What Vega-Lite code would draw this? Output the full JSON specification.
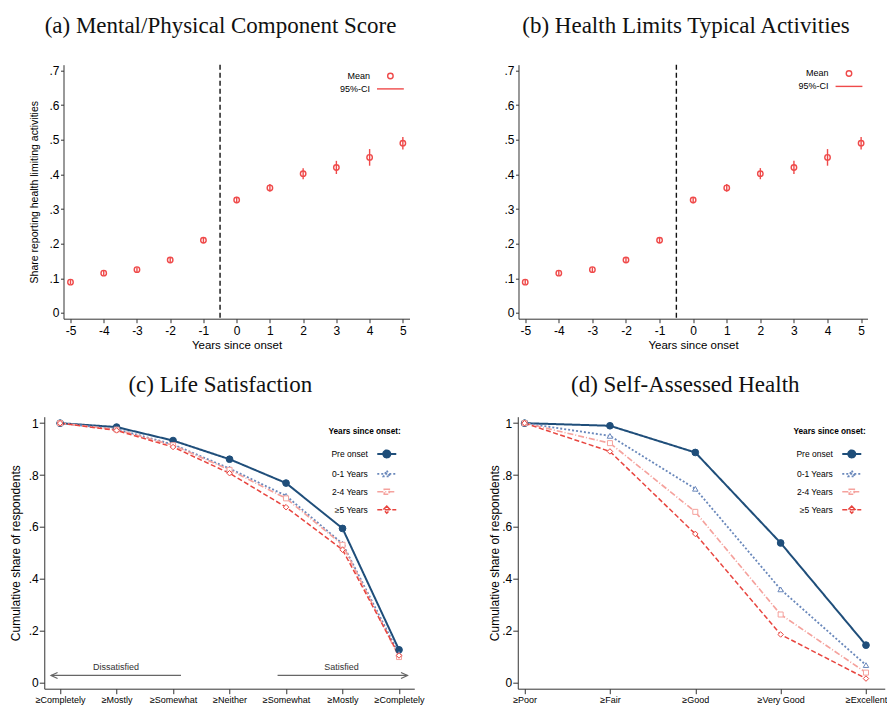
{
  "$schema": "https://vega.github.io/schema/vega-lite/v6.json",
  "padding": {"left": 9, "top": 14.7, "right": 0, "bottom": 0},
  "datasets": {
    "scores": [
      {"year": -5, "mean": 0.089, "lo": 0.083, "hi": 0.095},
      {"year": -4, "mean": 0.115, "lo": 0.108, "hi": 0.122},
      {"year": -3, "mean": 0.125, "lo": 0.118, "hi": 0.132},
      {"year": -2, "mean": 0.153, "lo": 0.146, "hi": 0.160},
      {"year": -1, "mean": 0.210, "lo": 0.202, "hi": 0.218},
      {"year": 0, "mean": 0.326, "lo": 0.317, "hi": 0.335},
      {"year": 1, "mean": 0.361, "lo": 0.350, "hi": 0.372},
      {"year": 2, "mean": 0.402, "lo": 0.386, "hi": 0.418},
      {"year": 3, "mean": 0.420, "lo": 0.401, "hi": 0.439},
      {"year": 4, "mean": 0.449, "lo": 0.425, "hi": 0.473},
      {"year": 5, "mean": 0.490, "lo": 0.472, "hi": 0.508}
    ],
    "ls": [
      {"level": 1, "group": "Pre onset", "share": 1.0},
      {"level": 2, "group": "Pre onset", "share": 0.985},
      {"level": 3, "group": "Pre onset", "share": 0.933},
      {"level": 4, "group": "Pre onset", "share": 0.861},
      {"level": 5, "group": "Pre onset", "share": 0.769},
      {"level": 6, "group": "Pre onset", "share": 0.594},
      {"level": 7, "group": "Pre onset", "share": 0.126},
      {"level": 1, "group": "0-1 Years", "share": 1.0},
      {"level": 2, "group": "0-1 Years", "share": 0.977},
      {"level": 3, "group": "0-1 Years", "share": 0.918},
      {"level": 4, "group": "0-1 Years", "share": 0.825},
      {"level": 5, "group": "0-1 Years", "share": 0.720},
      {"level": 6, "group": "0-1 Years", "share": 0.535},
      {"level": 7, "group": "0-1 Years", "share": 0.110},
      {"level": 1, "group": "2-4 Years", "share": 1.0},
      {"level": 2, "group": "2-4 Years", "share": 0.975},
      {"level": 3, "group": "2-4 Years", "share": 0.915},
      {"level": 4, "group": "2-4 Years", "share": 0.820},
      {"level": 5, "group": "2-4 Years", "share": 0.710},
      {"level": 6, "group": "2-4 Years", "share": 0.531},
      {"level": 7, "group": "2-4 Years", "share": 0.098},
      {"level": 1, "group": "≥5 Years", "share": 1.0},
      {"level": 2, "group": "≥5 Years", "share": 0.972},
      {"level": 3, "group": "≥5 Years", "share": 0.908},
      {"level": 4, "group": "≥5 Years", "share": 0.807},
      {"level": 5, "group": "≥5 Years", "share": 0.676},
      {"level": 6, "group": "≥5 Years", "share": 0.512},
      {"level": 7, "group": "≥5 Years", "share": 0.104}
    ],
    "sah": [
      {"level": 1, "group": "Pre onset", "share": 1.0},
      {"level": 2, "group": "Pre onset", "share": 0.990},
      {"level": 3, "group": "Pre onset", "share": 0.887},
      {"level": 4, "group": "Pre onset", "share": 0.538},
      {"level": 5, "group": "Pre onset", "share": 0.144},
      {"level": 1, "group": "0-1 Years", "share": 1.0},
      {"level": 2, "group": "0-1 Years", "share": 0.951},
      {"level": 3, "group": "0-1 Years", "share": 0.747},
      {"level": 4, "group": "0-1 Years", "share": 0.359},
      {"level": 5, "group": "0-1 Years", "share": 0.067},
      {"level": 1, "group": "2-4 Years", "share": 1.0},
      {"level": 2, "group": "2-4 Years", "share": 0.923},
      {"level": 3, "group": "2-4 Years", "share": 0.658},
      {"level": 4, "group": "2-4 Years", "share": 0.262},
      {"level": 5, "group": "2-4 Years", "share": 0.038},
      {"level": 1, "group": "≥5 Years", "share": 1.0},
      {"level": 2, "group": "≥5 Years", "share": 0.891},
      {"level": 3, "group": "≥5 Years", "share": 0.573},
      {"level": 4, "group": "≥5 Years", "share": 0.185},
      {"level": 5, "group": "≥5 Years", "share": 0.015}
    ]
  },
  "spacing": 22,
  "center": true,
  "resolve": {"scale": {"x": "independent", "y": "independent", "color": "independent", "strokeDash": "independent", "shape": "independent", "fill": "independent", "strokeWidth": "independent"}, "legend": {"color": "independent", "shape": "independent", "fill": "independent", "strokeDash": "independent"}},
  "vconcat": [
    {
      "spacing": 94,
      "resolve": {"scale": {"x": "independent", "y": "independent", "color": "independent", "shape": "independent"}, "legend": {"color": "independent", "shape": "independent"}},
      "hconcat": [
        {
          "width": 346, "height": 254,
          "title": {"text": "(a) Mental/Physical Component Score", "offset": 26.3, "dx": -16},
          "data": {"name": "scores"},
          "encoding": {
            "x": {"field": "year", "type": "quantitative",
              "scale": {"domain": [-5.21, 5.2], "nice": false, "zero": false},
              "axis": {"title": "Years since onset", "values": [-5, -4, -3, -2, -1, 0, 1, 2, 3, 4, 5], "labelExpr": "'' + datum.value", "tickSize": 4, "labelPadding": 3, "titlePadding": 3, "labelFontSize": 12, "titleFontSize": 11.5, "labelFlush": false, "labelOverlap": false}}
          },
          "layer": [
            {"transform": [{"filter": "datum.year === 0"}],
             "mark": {"type": "rule", "strokeDash": [5, 3], "color": "#111", "strokeWidth": 1.4},
             "encoding": {"x": {"datum": -0.5, "type": "quantitative"}}},
            {"mark": {"type": "rule", "strokeWidth": 1.4, "color": "#ef4a4a"},
             "encoding": {
               "y": {"field": "lo", "type": "quantitative",
                 "scale": {"domain": [-0.0165, 0.7165], "nice": false, "zero": false},
                 "axis": {"title": ["", "Share reporting health limiting activities"], "titleLineHeight": 10.5, "values": [0, 0.1, 0.2, 0.3, 0.4, 0.5, 0.6, 0.7], "labelExpr": "datum.value == 0 ? '0' : replace(format(datum.value, '.1f'), '0.', '.')", "tickSize": 3, "labelPadding": 1.5, "titlePadding": 9.5, "labelFontSize": 12, "titleFontSize": 10.5, "labelOverlap": false}},
               "y2": {"field": "hi"}}},
            {"mark": {"type": "point", "filled": false, "size": 30, "strokeWidth": 1.4, "opacity": 1, "color": "#ef4a4a"},
             "encoding": {
               "y": {"field": "mean", "type": "quantitative",
                 "scale": {"domain": [-0.0165, 0.7165], "nice": false, "zero": false},
                 "axis": {"title": ["", "Share reporting health limiting activities"], "titleLineHeight": 10.5, "values": [0, 0.1, 0.2, 0.3, 0.4, 0.5, 0.6, 0.7], "labelExpr": "datum.value == 0 ? '0' : replace(format(datum.value, '.1f'), '0.', '.')", "tickSize": 3, "labelPadding": 1.5, "titlePadding": 9.5, "labelFontSize": 12, "titleFontSize": 10.5, "labelOverlap": false}}
             }},
            {"transform": [{"filter": "false"}],
             "mark": {"type": "point", "filled": false, "strokeWidth": 1.4, "opacity": 1},
             "encoding": {
               "shape": {"datum": "Mean", "type": "nominal", "scale": {"domain": ["Mean", "95%-CI"], "range": ["circle", "M -4.9 0 L 4.9 0"]}},
               "color": {"datum": "Mean", "type": "nominal",
                 "scale": {"domain": ["Mean", "95%-CI"], "range": ["#ef4a4a", "#ef4a4a"]},
                 "legend": {"orient": "none", "legendX": 322.4, "legendY": 6.8, "title": null, "padding": 0, "symbolSize": 30, "labelFontSize": 9, "labelAlign": "right", "labelOffset": -25, "rowPadding": 1.9, "symbolStrokeWidth": 1.4, "symbolFillColor": "transparent"}}
             }}
          ]
        },
        {
          "width": 349, "height": 254,
          "title": {"text": "(b) Health Limits Typical Activities", "offset": 26.3, "dx": -7},
          "data": {"name": "scores"},
          "encoding": {
            "x": {"field": "year", "type": "quantitative",
              "scale": {"domain": [-5.2, 5.19], "nice": false, "zero": false},
              "axis": {"title": "Years since onset", "values": [-5, -4, -3, -2, -1, 0, 1, 2, 3, 4, 5], "labelExpr": "'' + datum.value", "tickSize": 4, "labelPadding": 3, "titlePadding": 3, "labelFontSize": 12, "titleFontSize": 11.5, "labelFlush": false, "labelOverlap": false}}
          },
          "layer": [
            {"transform": [{"filter": "datum.year === 0"}],
             "mark": {"type": "rule", "strokeDash": [5, 3], "color": "#111", "strokeWidth": 1.4},
             "encoding": {"x": {"datum": -0.5, "type": "quantitative"}}},
            {"mark": {"type": "rule", "strokeWidth": 1.4, "color": "#ef4a4a"},
             "encoding": {
               "y": {"field": "lo", "type": "quantitative",
                 "scale": {"domain": [-0.0165, 0.7165], "nice": false, "zero": false},
                 "axis": {"title": null, "values": [0, 0.1, 0.2, 0.3, 0.4, 0.5, 0.6, 0.7], "labelExpr": "datum.value == 0 ? '0' : replace(format(datum.value, '.1f'), '0.', '.')", "tickSize": 3, "labelPadding": 1.5, "labelFontSize": 12, "labelOverlap": false}},
               "y2": {"field": "hi"}}},
            {"mark": {"type": "point", "filled": false, "size": 30, "strokeWidth": 1.4, "opacity": 1, "color": "#ef4a4a"},
             "encoding": {
               "y": {"field": "mean", "type": "quantitative",
                 "scale": {"domain": [-0.0165, 0.7165], "nice": false, "zero": false},
                 "axis": {"title": null, "values": [0, 0.1, 0.2, 0.3, 0.4, 0.5, 0.6, 0.7], "labelExpr": "datum.value == 0 ? '0' : replace(format(datum.value, '.1f'), '0.', '.')", "tickSize": 3, "labelPadding": 1.5, "labelFontSize": 12, "labelOverlap": false}}
             }},
            {"transform": [{"filter": "false"}],
             "mark": {"type": "point", "filled": false, "strokeWidth": 1.4, "opacity": 1},
             "encoding": {
               "shape": {"datum": "Mean", "type": "nominal", "scale": {"domain": ["Mean", "95%-CI"], "range": ["circle", "M -4.9 0 L 4.9 0"]}},
               "color": {"datum": "Mean", "type": "nominal",
                 "scale": {"domain": ["Mean", "95%-CI"], "range": ["#ef4a4a", "#ef4a4a"]},
                 "legend": {"orient": "none", "legendX": 326, "legendY": 4.3, "title": null, "padding": 0, "symbolSize": 30, "labelFontSize": 9, "labelAlign": "right", "labelOffset": -25, "rowPadding": 1.9, "symbolStrokeWidth": 1.4, "symbolFillColor": "transparent"}}
             }}
          ]
        }
      ]
    },
    {
      "spacing": 63.5,
      "resolve": {"scale": {"x": "independent", "y": "independent", "color": "independent", "strokeDash": "independent", "shape": "independent", "fill": "independent", "strokeWidth": "independent"}, "legend": {"color": "independent", "shape": "independent", "fill": "independent", "strokeDash": "independent"}},
      "hconcat": [
        {
          "width": 370, "height": 272,
          "title": {"text": "(c) Life Satisfaction", "offset": 19.5, "dx": -9},
          "data": {"name": "ls"},
          "encoding": {
            "x": {"field": "level", "type": "quantitative",
              "scale": {"domain": [0.72, 7.27], "nice": false, "zero": false},
              "axis": {"title": null, "values": [1, 2, 3, 4, 5, 6, 7], "labelExpr": "['≥Completely','≥Mostly','≥Somewhat','≥Neither','≥Somewhat','≥Mostly','≥Completely'][datum.value - 1]", "tickSize": 5, "labelPadding": 1.5, "labelFontSize": 9, "labelFlush": false, "labelOverlap": false}},
            "y": {"field": "share", "type": "quantitative",
              "scale": {"domain": [-0.024, 1.025], "nice": false, "zero": false},
              "axis": {"title": "Cumulative share of respondents", "values": [0, 0.2, 0.4, 0.6, 0.8, 1], "labelExpr": "datum.value == 0 ? '0' : datum.value == 1 ? '1' : replace(format(datum.value, '.1f'), '0.', '.')", "tickSize": 5, "labelPadding": 1, "titlePadding": 6, "labelFontSize": 12, "titleFontSize": 12, "labelOverlap": false}}
          },
          "layer": [
            {"mark": {"type": "line"},
             "encoding": {
               "color": {"field": "group", "type": "nominal",
                 "scale": {"domain": ["Pre onset", "0-1 Years", "2-4 Years", "≥5 Years"], "range": ["#1f4e7a", "#6a88bb", "#f5a29d", "#e8453f"]},
                 "legend": {"orient": "none", "legendX": 284.5, "legendY": 10, "title": "Years since onset:", "titleFontSize": 8.25, "titleFontWeight": "bold", "titleAnchor": "end", "titlePadding": 13, "padding": 0, "symbolSize": 100, "symbolStrokeWidth": 1.5, "labelFontSize": 8.5, "labelAlign": "right", "labelOffset": -20, "rowPadding": 4.9}},
               "strokeDash": {"field": "group", "type": "nominal", "scale": {"domain": ["Pre onset", "0-1 Years", "2-4 Years", "≥5 Years"], "range": [[1, 0], [2, 2], [6, 2, 1, 2], [5, 2.5]]}},
               "strokeWidth": {"field": "group", "type": "nominal", "scale": {"domain": ["Pre onset", "0-1 Years", "2-4 Years", "≥5 Years"], "range": [2, 1.5, 1.5, 1.6]}, "legend": null}
             }},
            {"transform": [{"filter": "datum.group === 'Pre onset'"}],
             "mark": {"type": "point", "shape": "circle", "size": 45, "filled": true, "fill": "#1f4e7a", "stroke": "#1f4e7a", "strokeWidth": 1, "opacity": 1}},
            {"transform": [{"filter": "datum.group === '0-1 Years'"}],
             "mark": {"type": "point", "shape": "triangle-up", "size": 30, "filled": true, "fill": "white", "stroke": "#6a88bb", "strokeWidth": 1, "opacity": 1}},
            {"transform": [{"filter": "datum.group === '2-4 Years'"}],
             "mark": {"type": "point", "shape": "square", "size": 25, "filled": true, "fill": "white", "stroke": "#f5a29d", "strokeWidth": 1, "opacity": 1}},
            {"transform": [{"filter": "datum.group === '≥5 Years'"}],
             "mark": {"type": "point", "shape": "diamond", "size": 30, "filled": true, "fill": "white", "stroke": "#e8453f", "strokeWidth": 1, "opacity": 1}},
            {"transform": [{"filter": "false"}],
             "mark": {"type": "point", "filled": false, "strokeWidth": 1.5, "opacity": 1},
             "encoding": {
               "color": {"field": "group", "type": "nominal"},
               "strokeDash": {"field": "group", "type": "nominal"},
               "shape": {"field": "group", "type": "nominal", "scale": {"domain": ["Pre onset", "0-1 Years", "2-4 Years", "≥5 Years"], "range": ["M -0.9 0 L 2.9 0 M 0.3 0 A 0.7 0.7 0 1 0 1.7 0 A 0.7 0.7 0 1 0 0.3 0 Z", "M -0.9 0 L 2.9 0 M 1 -0.65 L 1.65 0.5 L 0.35 0.5 Z", "M -0.9 0 L 2.9 0 M 0.5 -0.5 L 1.5 -0.5 L 1.5 0.5 L 0.5 0.5 Z", "M -0.9 0 L 2.9 0 M 1 -0.7 L 1.7 0 L 1 0.7 L 0.3 0 Z"]}},
               "fill": {"field": "group", "type": "nominal", "scale": {"domain": ["Pre onset", "0-1 Years", "2-4 Years", "≥5 Years"], "range": ["#1f4e7a", "white", "white", "white"]}}
             }},
            {"transform": [{"filter": "datum.level === 1 && datum.group === 'Pre onset'"}],
             "mark": {"type": "rule", "color": "#666", "strokeWidth": 1.2},
             "encoding": {"x": {"datum": 0.84, "type": "quantitative"}, "x2": {"datum": 3.14}, "y": {"datum": 0.027, "type": "quantitative"}}},
            {"transform": [{"filter": "datum.level === 1 && datum.group === 'Pre onset'"}],
             "mark": {"type": "rule", "color": "#666", "strokeWidth": 1.2},
             "encoding": {"x": {"datum": 4.85, "type": "quantitative"}, "x2": {"datum": 7.15}, "y": {"datum": 0.027, "type": "quantitative"}}},
            {"transform": [{"filter": "datum.level === 1 && datum.group === 'Pre onset'"}],
             "mark": {"type": "point", "shape": "M 1.3 -0.6 L 0 0 L 1.3 0.6", "size": 100, "filled": false, "color": "#666", "strokeWidth": 1.2, "opacity": 1},
             "encoding": {"x": {"datum": 0.84, "type": "quantitative"}, "y": {"datum": 0.027, "type": "quantitative"}}},
            {"transform": [{"filter": "datum.level === 1 && datum.group === 'Pre onset'"}],
             "mark": {"type": "point", "shape": "M -1.3 -0.6 L 0 0 L -1.3 0.6", "size": 100, "filled": false, "color": "#666", "strokeWidth": 1.2, "opacity": 1},
             "encoding": {"x": {"datum": 7.15, "type": "quantitative"}, "y": {"datum": 0.027, "type": "quantitative"}}},
            {"transform": [{"filter": "datum.level === 1 && datum.group === 'Pre onset'"}],
             "mark": {"type": "text", "fontSize": 9, "color": "#333"},
             "encoding": {"x": {"datum": 1.99, "type": "quantitative"}, "y": {"datum": 0.059, "type": "quantitative"}, "text": {"value": "Dissatisfied"}}},
            {"transform": [{"filter": "datum.level === 1 && datum.group === 'Pre onset'"}],
             "mark": {"type": "text", "fontSize": 9, "color": "#333"},
             "encoding": {"x": {"datum": 5.98, "type": "quantitative"}, "y": {"datum": 0.059, "type": "quantitative"}, "text": {"value": "Satisfied"}}}
          ]
        },
        {
          "width": 367, "height": 272,
          "title": {"text": "(d) Self-Assessed Health", "offset": 19.5, "dx": -16},
          "data": {"name": "sah"},
          "encoding": {
            "x": {"field": "level", "type": "quantitative",
              "scale": {"domain": [0.92, 5.22], "nice": false, "zero": false},
              "axis": {"title": null, "values": [1, 2, 3, 4, 5], "labelExpr": "['≥Poor','≥Fair','≥Good','≥Very Good','≥Excellent'][datum.value - 1]", "tickSize": 5, "labelPadding": 1.5, "labelFontSize": 9, "labelFlush": false, "labelOverlap": false}},
            "y": {"field": "share", "type": "quantitative",
              "scale": {"domain": [-0.024, 1.025], "nice": false, "zero": false},
              "axis": {"title": "Cumulative share of respondents", "values": [0, 0.2, 0.4, 0.6, 0.8, 1], "labelExpr": "datum.value == 0 ? '0' : datum.value == 1 ? '1' : replace(format(datum.value, '.1f'), '0.', '.')", "tickSize": 5, "labelPadding": 1, "titlePadding": 0, "labelFontSize": 12, "titleFontSize": 12, "labelOverlap": false}}
          },
          "layer": [
            {"mark": {"type": "line"},
             "encoding": {
               "color": {"field": "group", "type": "nominal",
                 "scale": {"domain": ["Pre onset", "0-1 Years", "2-4 Years", "≥5 Years"], "range": ["#1f4e7a", "#6a88bb", "#f5a29d", "#e8453f"]},
                 "legend": {"orient": "none", "legendX": 276, "legendY": 10, "title": "Years since onset:", "titleFontSize": 8.25, "titleFontWeight": "bold", "titleAnchor": "end", "titlePadding": 13, "padding": 0, "symbolSize": 100, "symbolStrokeWidth": 1.5, "labelFontSize": 8.5, "labelAlign": "right", "labelOffset": -20, "rowPadding": 4.9}},
               "strokeDash": {"field": "group", "type": "nominal", "scale": {"domain": ["Pre onset", "0-1 Years", "2-4 Years", "≥5 Years"], "range": [[1, 0], [2, 2], [6, 2, 1, 2], [5, 2.5]]}},
               "strokeWidth": {"field": "group", "type": "nominal", "scale": {"domain": ["Pre onset", "0-1 Years", "2-4 Years", "≥5 Years"], "range": [2, 1.5, 1.5, 1.6]}, "legend": null}
             }},
            {"transform": [{"filter": "datum.group === 'Pre onset'"}],
             "mark": {"type": "point", "shape": "circle", "size": 45, "filled": true, "fill": "#1f4e7a", "stroke": "#1f4e7a", "strokeWidth": 1, "opacity": 1}},
            {"transform": [{"filter": "datum.group === '0-1 Years'"}],
             "mark": {"type": "point", "shape": "triangle-up", "size": 30, "filled": true, "fill": "white", "stroke": "#6a88bb", "strokeWidth": 1, "opacity": 1}},
            {"transform": [{"filter": "datum.group === '2-4 Years'"}],
             "mark": {"type": "point", "shape": "square", "size": 25, "filled": true, "fill": "white", "stroke": "#f5a29d", "strokeWidth": 1, "opacity": 1}},
            {"transform": [{"filter": "datum.group === '≥5 Years'"}],
             "mark": {"type": "point", "shape": "diamond", "size": 30, "filled": true, "fill": "white", "stroke": "#e8453f", "strokeWidth": 1, "opacity": 1}},
            {"transform": [{"filter": "false"}],
             "mark": {"type": "point", "filled": false, "strokeWidth": 1.5, "opacity": 1},
             "encoding": {
               "color": {"field": "group", "type": "nominal"},
               "strokeDash": {"field": "group", "type": "nominal"},
               "shape": {"field": "group", "type": "nominal", "scale": {"domain": ["Pre onset", "0-1 Years", "2-4 Years", "≥5 Years"], "range": ["M -0.9 0 L 2.9 0 M 0.3 0 A 0.7 0.7 0 1 0 1.7 0 A 0.7 0.7 0 1 0 0.3 0 Z", "M -0.9 0 L 2.9 0 M 1 -0.65 L 1.65 0.5 L 0.35 0.5 Z", "M -0.9 0 L 2.9 0 M 0.5 -0.5 L 1.5 -0.5 L 1.5 0.5 L 0.5 0.5 Z", "M -0.9 0 L 2.9 0 M 1 -0.7 L 1.7 0 L 1 0.7 L 0.3 0 Z"]}},
               "fill": {"field": "group", "type": "nominal", "scale": {"domain": ["Pre onset", "0-1 Years", "2-4 Years", "≥5 Years"], "range": ["#1f4e7a", "white", "white", "white"]}}
             }}
          ]
        }
      ]
    }
  ],
  "config": {
    "view": {"stroke": null},
    "font": "Liberation Sans",
    "axis": {"grid": false, "domainColor": "#333", "tickColor": "#333", "labelColor": "#000", "titleColor": "#000", "titleFontWeight": "normal", "labelFont": "Liberation Sans", "titleFont": "Liberation Sans", "domainWidth": 1, "tickWidth": 1, "labelOverlap": false, "labelBound": false},
    "title": {"font": "Liberation Serif", "fontSize": 23, "fontWeight": "normal", "color": "#111", "baseline": "alphabetic", "anchor": "middle"},
    "legend": {"labelFont": "Liberation Sans", "titleFont": "Liberation Sans", "labelColor": "#000", "titleColor": "#000"}
  }
}
